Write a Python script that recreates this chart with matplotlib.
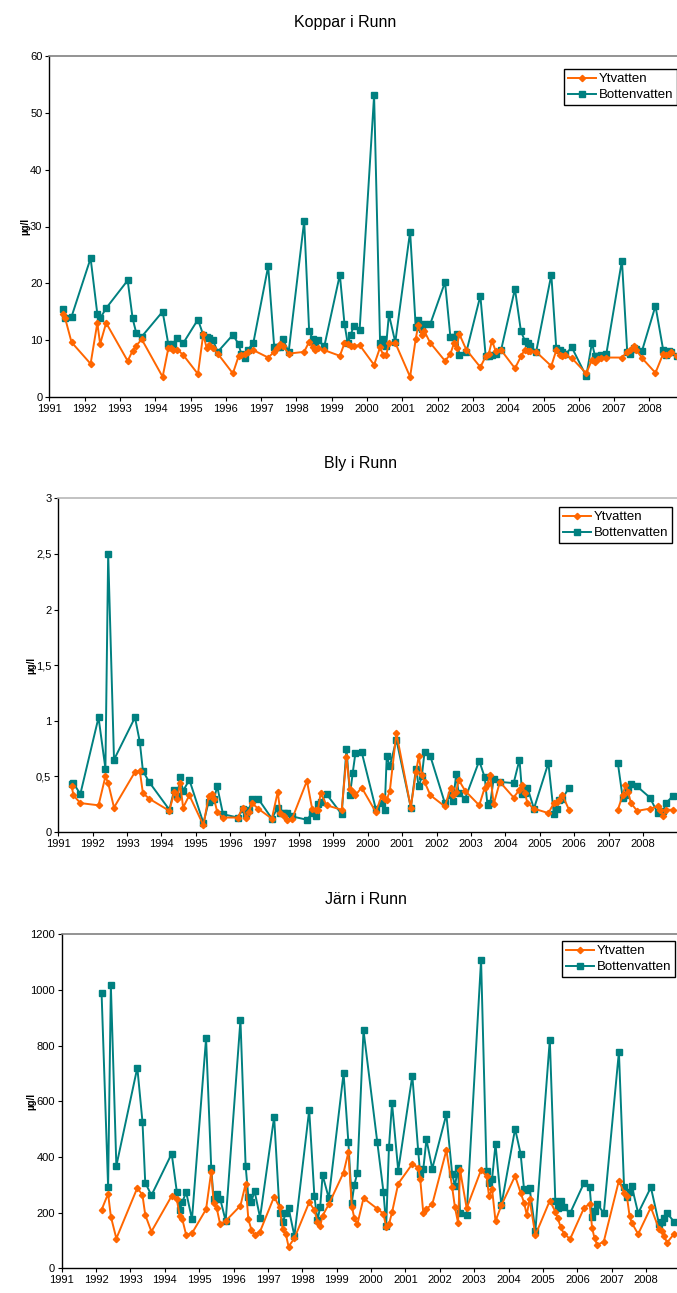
import numpy as np
import matplotlib
matplotlib.use("Agg")
import matplotlib.pyplot as plt
from matplotlib.ticker import FuncFormatter, MultipleLocator

plt.rcParams['font.family'] = ['Liberation Sans', 'DejaVu Sans']

# provtagningsdatum som decimalår
koppar_datum = [
    1991.38, 1991.45, 1991.63,
    1992.17, 1992.36, 1992.44, 1992.61,
    1993.22, 1993.36, 1993.46, 1993.62,
    1994.21, 1994.37, 1994.44, 1994.49, 1994.63, 1994.80,
    1995.21, 1995.36, 1995.46, 1995.53, 1995.63, 1995.77,
    1996.20, 1996.36, 1996.44, 1996.53, 1996.62, 1996.78,
    1997.20, 1997.37, 1997.46, 1997.54, 1997.62, 1997.78,
    1998.22, 1998.36, 1998.46, 1998.54, 1998.60, 1998.79,
    1999.23, 1999.36, 1999.45, 1999.54, 1999.62, 1999.79,
    2000.20, 2000.37, 2000.46, 2000.54, 2000.62, 2000.80,
    2001.22, 2001.38, 2001.45, 2001.55, 2001.62, 2001.79,
    2002.21, 2002.36, 2002.46, 2002.54, 2002.61, 2002.81,
    2003.21, 2003.36, 2003.45, 2003.54, 2003.64, 2003.80,
    2004.19, 2004.36, 2004.47, 2004.55, 2004.63, 2004.79,
    2005.22, 2005.36, 2005.47, 2005.53, 2005.62, 2005.80,
    2006.21, 2006.37, 2006.46, 2006.53, 2006.63, 2006.78,
    2007.22, 2007.37, 2007.45, 2007.55, 2007.62, 2007.79,
    2008.17, 2008.39, 2008.46, 2008.54, 2008.60, 2008.77,
]
koppar_yt = [
    14.5, 13.8, 9.6,
    5.8, 13.0, 9.3, 13.0,
    6.3, 8.1, 9.0, 10.1,
    3.5, 8.5, 8.6, 8.3, 8.3, 7.3,
    4.0, 11.0, 8.5, 9.1, 8.5, 7.6,
    4.1, 7.1, 7.3, 7.6, 7.8, 8.2,
    6.9, 7.9, 8.5, 9.3, 8.9, 7.6,
    7.9, 9.7, 8.7, 8.3, 8.5, 8.2,
    7.2, 9.4, 9.3, 8.9, 8.9, 9.1,
    5.6, 8.7, 7.3, 7.3, 9.4, 9.5,
    3.5, 10.2, 12.6, 10.9, 11.6, 9.5,
    6.3, 7.5, 9.4, 8.5, 11.1, 8.3,
    5.2, 7.1, 7.6, 9.9, 8.1, 8.2,
    5.0, 7.1, 8.3, 8.1, 8.1, 7.9,
    5.4, 8.2, 7.3, 7.2, 7.3, 6.8,
    4.1, 6.5, 6.2, 6.6, 6.9, 6.9,
    6.9, 7.9, 8.2, 8.9, 8.3, 6.8,
    4.2, 7.6, 7.3, 7.6, 7.9, 7.2,
]
koppar_botten = [
    15.4, 13.9, 14.1,
    24.4, 14.6, 13.8, 15.6,
    20.5, 13.8, 11.3, 10.6,
    15.0, 9.3, 8.9, 9.3, 10.3, 9.5,
    13.6, 10.9, 10.6, 10.3, 10.0, 7.9,
    10.9, 9.3, 7.5, 6.9, 8.2, 9.5,
    23.0, 8.8, 8.8, 8.8, 10.1, 7.9,
    31.0, 11.6, 10.2, 9.7, 10.0, 8.9,
    21.5, 12.9, 9.5, 10.9, 12.5, 11.8,
    53.1, 9.4, 10.2, 9.0, 14.5, 9.6,
    29.1, 12.2, 13.5, 12.0, 12.8, 12.8,
    20.2, 10.6, 10.6, 11.0, 7.4, 7.8,
    17.8, 7.2, 7.2, 7.3, 7.6, 8.3,
    19.0, 11.5, 9.9, 9.4, 8.9, 7.9,
    21.5, 8.6, 8.2, 7.9, 7.5, 8.7,
    3.6, 9.5, 7.1, 7.2, 7.4, 7.6,
    24.0, 7.9, 7.5, 8.5, 8.4, 8.1,
    16.0, 8.2, 7.3, 8.1, 7.9, 7.2,
]

bly_datum = [
    1991.39, 1991.44, 1991.64,
    1992.17, 1992.37, 1992.45, 1992.62,
    1993.23, 1993.37, 1993.46, 1993.64,
    1994.23, 1994.37, 1994.46, 1994.54, 1994.63, 1994.81,
    1995.22, 1995.37, 1995.46, 1995.53, 1995.62, 1995.79,
    1996.22, 1996.37, 1996.45, 1996.55, 1996.63, 1996.81,
    1997.21, 1997.38, 1997.46, 1997.56, 1997.66, 1997.80,
    1998.23, 1998.38, 1998.48, 1998.55, 1998.63, 1998.80,
    1999.24, 1999.38, 1999.48, 1999.56, 1999.64, 1999.82,
    2000.23, 2000.40, 2000.49, 2000.55, 2000.64, 2000.83,
    2001.25, 2001.40, 2001.48, 2001.57, 2001.65, 2001.82,
    2002.24, 2002.41, 2002.48, 2002.57, 2002.64, 2002.83,
    2003.24, 2003.40, 2003.48, 2003.56, 2003.66, 2003.84,
    2004.24, 2004.41, 2004.49, 2004.57, 2004.64, 2004.83,
    2005.25, 2005.41, 2005.49, 2005.57, 2005.66, 2005.85,
    2006.50,
    2007.27, 2007.41, 2007.49, 2007.57, 2007.65, 2007.83,
    2008.20, 2008.43, 2008.51, 2008.59, 2008.67, 2008.86,
]
# nan = inga prover 2006
bly_yt = [
    0.41, 0.33, 0.26,
    0.24, 0.50, 0.44, 0.22,
    0.54, 0.55, 0.35, 0.30,
    0.19, 0.36, 0.30, 0.44, 0.22, 0.33,
    0.06, 0.32, 0.34, 0.30, 0.18, 0.13,
    0.13, 0.22, 0.13, 0.18, 0.26, 0.21,
    0.12, 0.36, 0.17, 0.14, 0.11, 0.12,
    0.46, 0.21, 0.20, 0.20, 0.35, 0.24,
    0.20, 0.67, 0.39, 0.36, 0.33, 0.40,
    0.18, 0.32, 0.30, 0.29, 0.37, 0.89,
    0.22, 0.54, 0.68, 0.51, 0.45, 0.33,
    0.23, 0.40, 0.33, 0.36, 0.47, 0.37,
    0.24, 0.40, 0.43, 0.51, 0.25, 0.45,
    0.31, 0.38, 0.42, 0.35, 0.26, 0.21,
    0.17, 0.26, 0.27, 0.29, 0.33, 0.20,
    np.nan,
    0.20, 0.33, 0.42, 0.36, 0.26, 0.19,
    0.21, 0.23, 0.20, 0.14, 0.20, 0.20,
]
bly_botten = [
    0.43, 0.44, 0.34,
    1.03, 0.57, 2.50, 0.65,
    1.03, 0.81, 0.55, 0.45,
    0.20, 0.38, 0.32, 0.49, 0.37, 0.47,
    0.08, 0.27, 0.29, 0.30, 0.41, 0.16,
    0.13, 0.21, 0.16, 0.20, 0.30, 0.30,
    0.12, 0.22, 0.17, 0.17, 0.17, 0.14,
    0.11, 0.17, 0.14, 0.25, 0.27, 0.34,
    0.16, 0.75, 0.33, 0.53, 0.71, 0.72,
    0.21, 0.26, 0.20, 0.68, 0.59, 0.83,
    0.22, 0.57, 0.41, 0.50, 0.72, 0.68,
    0.26, 0.33, 0.28, 0.52, 0.35, 0.30,
    0.64, 0.49, 0.24, 0.26, 0.48, 0.45,
    0.44, 0.65, 0.34, 0.35, 0.40, 0.21,
    0.62, 0.16, 0.21, 0.29, 0.30, 0.40,
    np.nan,
    0.62, 0.31, 0.33, 0.40, 0.43, 0.41,
    0.31, 0.17, 0.18, 0.19, 0.26, 0.32,
]

jarn_datum = [
    1992.16, 1992.35, 1992.43, 1992.59,
    1993.20, 1993.35, 1993.43, 1993.61,
    1994.20, 1994.35, 1994.43, 1994.51, 1994.62, 1994.79,
    1995.20, 1995.35, 1995.42, 1995.51, 1995.61, 1995.77,
    1996.20, 1996.35, 1996.43, 1996.52, 1996.61, 1996.77,
    1997.18, 1997.34, 1997.43, 1997.52, 1997.60, 1997.77,
    1998.20, 1998.35, 1998.44, 1998.52, 1998.59, 1998.77,
    1999.20, 1999.34, 1999.44, 1999.51, 1999.60, 1999.78,
    2000.18, 2000.36, 2000.44, 2000.52, 2000.61, 2000.79,
    2001.20, 2001.37, 2001.43, 2001.52, 2001.61, 2001.78,
    2002.19, 2002.36, 2002.44, 2002.53, 2002.59, 2002.78,
    2003.20, 2003.36, 2003.43, 2003.52, 2003.62, 2003.79,
    2004.19, 2004.35, 2004.45, 2004.53, 2004.61, 2004.78,
    2005.20, 2005.36, 2005.43, 2005.52, 2005.61, 2005.79,
    2006.20, 2006.36, 2006.43, 2006.50, 2006.58, 2006.77,
    2007.21, 2007.36, 2007.44, 2007.52, 2007.58, 2007.77,
    2008.14, 2008.38, 2008.46, 2008.53, 2008.61, 2008.81,
]
jarn_yt = [
    210, 268, 186, 107,
    289, 263, 192, 132,
    260, 248, 188, 176, 120, 126,
    212, 347, 236, 216, 158, 170,
    225, 303, 176, 138, 120, 132,
    257, 219, 140, 123, 78, 108,
    237, 210, 168, 152, 189, 230,
    344, 417, 222, 182, 158, 252,
    214, 196, 147, 158, 201, 304,
    375, 362, 320, 198, 214, 230,
    424, 291, 219, 164, 353, 216,
    353, 332, 260, 284, 170, 226,
    332, 272, 236, 192, 248, 119,
    243, 204, 180, 147, 125, 105,
    218, 231, 146, 108, 84, 96,
    315, 272, 261, 188, 164, 123,
    219, 140, 135, 116, 92, 123,
]
jarn_botten = [
    990, 292, 1017, 368,
    721, 526, 308, 262,
    412, 274, 208, 238, 274, 176,
    826, 360, 250, 266, 250, 170,
    892, 369, 255, 240, 278, 182,
    544, 199, 166, 198, 217, 116,
    569, 261, 172, 220, 335, 252,
    701, 452, 236, 298, 343, 855,
    454, 275, 152, 435, 593, 351,
    692, 423, 339, 357, 463, 358,
    553, 338, 297, 359, 198, 192,
    1108, 351, 308, 320, 446, 226,
    501, 412, 284, 283, 290, 133,
    822, 242, 216, 242, 219, 198,
    308, 291, 184, 206, 231, 198,
    778, 291, 257, 273, 297, 198,
    291, 158, 166, 182, 198, 168,
]

ORANGE = '#FF6600'
TEAL = '#008080'
W, H = 677, 1293

fig = plt.figure(figsize=(W / 100, H / 100), dpi=100)


def komma(v, pos):
    s = ('%g' % v)
    return s.replace('.', ',')


# (titel, datum, yt, botten, ymax, ysteg, vänster px, topp px, botten px,
#  x-max, titel-x, titel-y, enhet-x, legend-hörn, topplinjefärg)
paneler = [
    ('Koppar i Runn', koppar_datum, koppar_yt, koppar_botten, 60, 10,
     49.3, 56.3, 396.7, 2008.78, 345, 22, 25, (677, 69), '#808080'),
    ('Bly i Runn', bly_datum, bly_yt, bly_botten, 3, 0.5,
     58.3, 498.3, 832.0, 2008.99, 361, 463, 31, (672, 507), '#b8b8b8'),
    ('Järn i Runn', jarn_datum, jarn_yt, jarn_botten, 1200, 200,
     61.7, 934.3, 1268.3, 2008.90, 366, 900, 31, (675, 941), '#808080'),
]

for (titel, datum, yt, botten, ymax, ysteg, vx, ty, by, xmax,
     tx, tty, ex, leg, toppfarg) in paneler:
    ax = fig.add_axes([vx / W, 1 - by / H, (W - vx) / W, (by - ty) / H])
    ax.plot(datum, yt, color=ORANGE, lw=1.4, marker='D', ms=3.2,
            mec=ORANGE, mfc=ORANGE, label='Ytvatten', zorder=3)
    ax.plot(datum, botten, color=TEAL, lw=1.4, marker='s', ms=4.2,
            mec=TEAL, mfc=TEAL, label='Bottenvatten', zorder=2)
    ax.set_xlim(1991, xmax)
    ax.set_ylim(0, ymax)
    ax.xaxis.set_major_locator(MultipleLocator(1))
    ax.xaxis.set_major_formatter(FuncFormatter(lambda v, p: '%d' % round(v)))
    ax.yaxis.set_major_locator(MultipleLocator(ysteg))
    ax.yaxis.set_major_formatter(FuncFormatter(komma))
    ax.tick_params(direction='out', length=3, width=0.8, labelsize=8,
                   pad=2, colors='black')
    ax.spines['right'].set_visible(False)
    ax.spines['top'].set_color(toppfarg)
    ax.spines['top'].set_linewidth(1.2)
    for s in ('left', 'bottom'):
        ax.spines[s].set_linewidth(1.0)
        ax.spines[s].set_color('black')

    fig.text(tx / W, 1 - tty / H, titel, ha='center', va='center',
             fontsize=11.5)
    fig.text(ex / W, 1 - (ty + by) / 2 / H, 'µg/l', rotation=90,
             ha='center', va='center', fontsize=7, fontweight='bold')

    lg = ax.legend(loc='upper right',
                   bbox_to_anchor=(leg[0] / W, 1 - leg[1] / H),
                   bbox_transform=fig.transFigure, fontsize=9.5,
                   fancybox=False, framealpha=1, edgecolor='black',
                   handlelength=2.1, handletextpad=0.2, borderpad=0.3,
                   labelspacing=0.3, borderaxespad=0)
    lg.get_frame().set_linewidth(1.0)

fig.savefig('out.png', dpi=100)
